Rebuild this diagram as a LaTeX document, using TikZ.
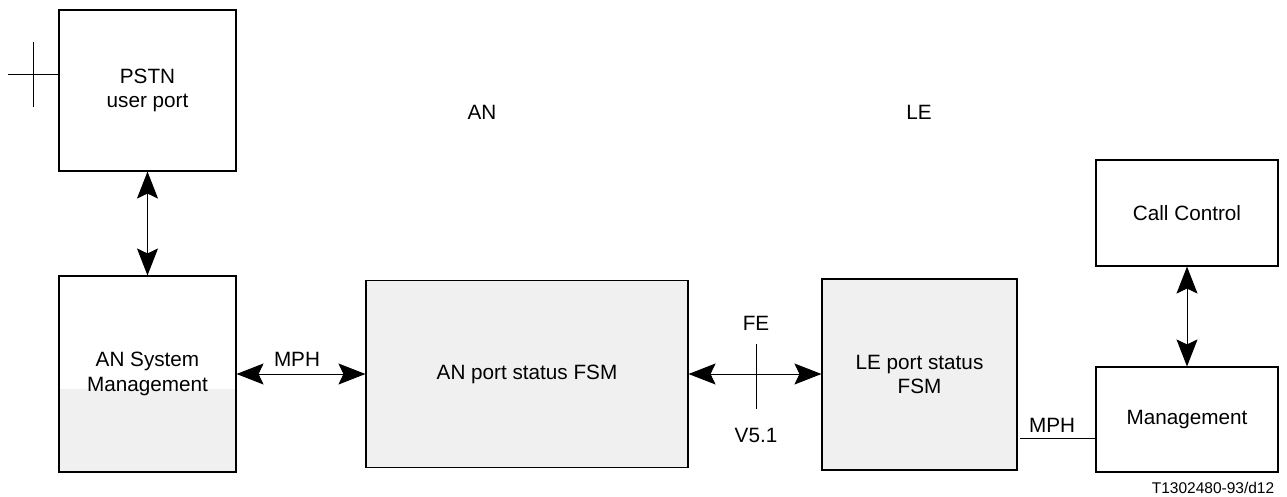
\documentclass[tikz,border=0pt]{standalone}
\usepackage{fontspec}
\setmainfont{Liberation Sans}
\usetikzlibrary{arrows.meta,calc}
\definecolor{fillgray}{HTML}{F0F0F0}
\tikzset{
  box/.style={draw=black, line width=1.1pt, align=center, inner sep=0pt,
    font=\fontsize{20.7}{24.5}\selectfont},
  graybox/.style={box, fill=fillgray},
  lbl/.style={inner sep=0pt, font=\fontsize{20.7}{24.5}\selectfont},
  biarrow/.style={line width=1pt, {Stealth[length=27pt,width=21pt,inset=5pt]}-{Stealth[length=27pt,width=21pt,inset=5pt]}},
  plain/.style={line width=1pt},
}
\begin{document}
\begin{tikzpicture}[x=1pt,y=-1pt]
\useasboundingbox (0,0) rectangle (1287,497);
% boxes
\node[box, minimum width=177pt, minimum height=161pt] (pstn) at (147.5,90.5) {PSTN\\[-1pt]user port};
\node[box, minimum width=177pt, minimum height=196pt,
  path picture={\fill[fillgray] ([yshift=-15pt]path picture bounding box.east) rectangle (path picture bounding box.south west);}]
  (ansm) at (147.5,374) {AN System\\Management};
\node[graybox, minimum width=322pt, minimum height=187pt] (anport) at (527,374) {AN port status FSM};
\node[graybox, minimum width=195pt, minimum height=191pt] (leport) at (919.5,374.5) {LE port status\\FSM};
\node[box, minimum width=182pt, minimum height=106pt] (cc) at (1187,213) {Call Control};
\node[box, minimum width=182pt, minimum height=105pt] (mgmt) at (1187,419.5) {Management};
% labels
\node[lbl] (an) at (482,112) {AN};
\node[lbl] (le) at (919,112) {LE};
\node[lbl] (mph1) at (297,359) {MPH};
\node[lbl] (fe) at (756,323) {FE};
\node[lbl] (v51) at (756,435) {V5.1};
\node[lbl] (mph2) at (1052,425) {MPH};
\node[inner sep=0pt, font=\fontsize{15.5}{18}\selectfont] (ref) at (1213,488) {T1302480-93/d12};
% connectors
\draw[biarrow] (pstn) -- (ansm);
\draw[biarrow] (ansm.east) -- (ansm.east -| anport.west);
\draw[biarrow] (anport.east) -- (anport.east -| leport.west);
\draw[biarrow] (cc) -- (mgmt);
\coordinate (mphl) at (1020,438);
\draw[plain] (mphl) -- (mphl -| mgmt.west);
% FE tick
\coordinate (fetop) at (756,344);
\coordinate (febot) at (756,409);
\draw[plain] (fetop) -- (febot);
% left cross
\coordinate (crossl) at (8,75);
\coordinate (crosst) at (33,42);
\coordinate (crossb) at (33,107);
\draw[plain] (crossl) -- (crossl -| pstn.west);
\draw[plain] (crosst) -- (crossb);
\end{tikzpicture}
\end{document}
